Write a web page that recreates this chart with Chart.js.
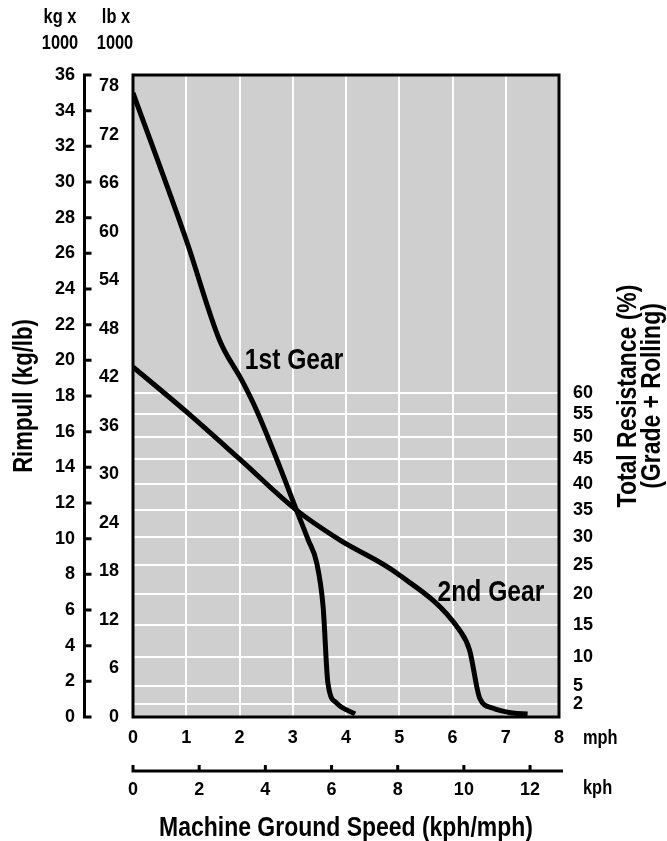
<!DOCTYPE html>
<html>
<head>
<meta charset="utf-8">
<script src="https://cdn.jsdelivr.net/npm/chart.js@4.4.0/dist/chart.umd.min.js"></script>
<style>
  html, body { margin: 0; padding: 0; background: #fff; }
  #wrap { width: 667px; height: 841px; position: relative; }
</style>
</head>
<body>
<div id="wrap"><canvas id="chart"></canvas></div>
<script>
// ---- data (speed in mph, rimpull in kg x 1000) ----
const mphTicks = [0, 1, 2, 3, 4, 5, 6, 7, 8];
const kphTicks = [0, 2, 4, 6, 8, 10, 12];
const kgTicks = [0, 2, 4, 6, 8, 10, 12, 14, 16, 18, 20, 22, 24, 26, 28, 30, 32, 34, 36];
const lbTicks = [0, 6, 12, 18, 24, 30, 36, 42, 48, 54, 60, 66, 72, 78];
const resistLabels = ["2", "5", "10", "15", "20", "25", "30", "35", "40", "45", "50", "55", "60"];
const resistRimpull = [0.73, 1.74, 3.37, 5.16, 6.9, 8.52, 10.1, 11.61, 13.07, 14.47, 15.7, 16.99, 18.17];

const gear1Speed = [0, 1.0, 1.63, 2.04, 2.32, 2.76, 3.07, 3.29, 3.45, 3.57, 3.66, 3.82, 4.17];
const gear1Rimpull = [35.0, 26.75, 21.1, 18.9, 17.2, 14.0, 11.6, 9.93, 8.64, 6.19, 1.91, 0.79, 0.17];
const gear2Speed = [0, 1.0, 2.0, 3.07, 3.88, 4.95, 6.13, 6.32, 6.51, 6.75, 7.13, 7.41];
const gear2Rimpull = [19.63, 17.12, 14.47, 11.6, 9.93, 8.07, 4.88, 3.76, 1.07, 0.5, 0.22, 0.17];

const KG_TO_LB = 2.20462;
const MPH_TO_KPH = 1.609344;

const FAMILY = "'Liberation Sans', Arial, sans-serif";
const tickFont = { family: FAMILY, size: 18, weight: "bold" };

Chart.defaults.color = "#000";
Chart.defaults.font.family = FAMILY;

const toPoints = (xs, ys) => xs.map((x, i) => ({ x: x, y: ys[i] }));
const setTicks = (list) => (scale) => {
  scale.ticks = list.map((v) => ({ value: v }));
};

// condensed bold text (squeezed along the writing direction)
function narrowText(ctx, text, x, y, size, align, rot) {
  ctx.save();
  ctx.translate(x, y);
  if (rot) ctx.rotate(rot);
  ctx.scale(0.82, 1);
  ctx.font = "bold " + size + "px " + FAMILY;
  ctx.textAlign = align;
  ctx.textBaseline = "alphabetic";
  ctx.fillStyle = "#000";
  ctx.fillText(text, 0, 0);
  ctx.restore();
}

// ================================
// DECORATION: background, frame, offset axes, titles
// ================================
const decor = {
  id: "decor",
  beforeDraw(chart) {
    const { ctx, chartArea: a } = chart;
    ctx.save();
    ctx.fillStyle = "#fff";
    ctx.fillRect(0, 0, chart.width, chart.height);
    ctx.fillStyle = "#cfcfcf";
    ctx.fillRect(a.left, a.top, a.right - a.left, a.bottom - a.top);
    ctx.restore();
  },
  afterDraw(chart) {
    const { ctx, chartArea: a, scales } = chart;
    const x = scales.x, y = scales.y, kph = scales.kph;
    ctx.save();
    ctx.strokeStyle = "#000";
    ctx.lineWidth = 3;
    ctx.strokeRect(a.left, a.top, a.right - a.left, a.bottom - a.top);

    // kg axis: line with ticks pointing right
    const ax = y.right - 7.5;
    ctx.beginPath();
    ctx.moveTo(ax, y.getPixelForValue(36) - 1.5);
    ctx.lineTo(ax, y.getPixelForValue(0) + 1.5);
    kgTicks.forEach((v) => {
      const py = y.getPixelForValue(v);
      ctx.moveTo(ax, py);
      ctx.lineTo(y.right - 0.5, py);
    });
    ctx.stroke();

    // kph axis: line with ticks pointing up
    const ky = kph.top + 18;
    ctx.beginPath();
    ctx.moveTo(kph.getPixelForValue(0) - 1.5, ky);
    ctx.lineTo(a.right + 4, ky);
    kphTicks.forEach((v) => {
      const px = kph.getPixelForValue(v);
      ctx.moveTo(px, ky);
      ctx.lineTo(px, ky - 6);
    });
    ctx.stroke();
    ctx.restore();

    narrowText(ctx, "kg x", 60, 23, 20, "center");
    narrowText(ctx, "1000", 60, 49, 20, "center");
    narrowText(ctx, "lb x", 116, 23, 20, "center");
    narrowText(ctx, "1000", 115, 49, 20, "center");
    narrowText(ctx, "mph", 583, 744, 20, "left");
    narrowText(ctx, "kph", 583, 794, 20, "left");

    // curve labels
    narrowText(ctx, "1st Gear", x.getPixelForValue(2.1), y.getPixelForValue(19.5), 30, "left");
    narrowText(ctx, "2nd Gear", x.getPixelForValue(5.72), y.getPixelForValue(6.5), 30, "left");

    // axis titles
    const midY = (a.top + a.bottom) / 2;
    narrowText(ctx, "Machine Ground Speed (kph/mph)", (a.left + a.right) / 2, 836, 28, "center");
    narrowText(ctx, "Rimpull (kg/lb)", 32, midY, 27, "center", -Math.PI / 2);
    narrowText(ctx, "Total Resistance (%)", 636, midY, 28, "center", -Math.PI / 2);
    narrowText(ctx, "(Grade + Rolling)", 660, midY, 28, "center", -Math.PI / 2);
  },
};

new Chart(document.getElementById("chart"), {
  type: "line",
  data: {
    datasets: [
      {
        label: "1st Gear",
        data: toPoints(gear1Speed, gear1Rimpull),
        borderColor: "#000",
        borderWidth: 5,
        pointRadius: 0,
        cubicInterpolationMode: "monotone",
        borderJoinStyle: "round",
      },
      {
        label: "2nd Gear",
        data: toPoints(gear2Speed, gear2Rimpull),
        borderColor: "#000",
        borderWidth: 5,
        pointRadius: 0,
        cubicInterpolationMode: "monotone",
        borderJoinStyle: "round",
      },
    ],
  },
  options: {
    responsive: true,
    maintainAspectRatio: false,
    animation: false,
    devicePixelRatio: 1,
    layout: { padding: { top: 75, left: 0, right: 0, bottom: 0 } },
    plugins: { legend: { display: false }, tooltip: { enabled: false } },
    scales: {
      x: {
        type: "linear",
        position: "bottom",
        weight: 0,
        min: 0,
        max: 8,
        afterBuildTicks: setTicks(mphTicks),
        grid: { color: "#fff", lineWidth: 2, drawTicks: false },
        border: { display: false },
        ticks: { font: tickFont, padding: 10, autoSkip: false, maxRotation: 0, callback: (v) => String(v) },
        afterFit: (s) => { s.height = 36; },
      },
      kph: {
        type: "linear",
        position: "bottom",
        weight: 1,
        min: 0,
        max: 8 * MPH_TO_KPH,
        afterBuildTicks: setTicks(kphTicks),
        grid: { display: false, drawTicks: false },
        border: { display: false },
        ticks: { font: tickFont, padding: 26, autoSkip: false, maxRotation: 0, callback: (v) => String(v) },
        afterFit: (s) => { s.height = 88; },
      },
      y: {
        type: "linear",
        position: "left",
        weight: 1,
        min: 0,
        max: 36,
        afterBuildTicks: setTicks(kgTicks),
        grid: { display: false, drawTicks: false },
        border: { display: false },
        ticks: { font: tickFont, padding: 17, autoSkip: false, callback: (v) => String(v) },
        afterFit: (s) => { s.width = 92; },
      },
      lb: {
        type: "linear",
        position: "left",
        weight: 0,
        min: 0,
        max: 36 * KG_TO_LB,
        afterBuildTicks: setTicks(lbTicks),
        grid: { display: false, drawTicks: false },
        border: { display: false },
        ticks: { font: tickFont, padding: 14, autoSkip: false, callback: (v) => String(v) },
        afterFit: (s) => { s.width = 41; },
      },
      res: {
        type: "linear",
        position: "right",
        min: 0,
        max: 36,
        afterBuildTicks: setTicks(resistRimpull),
        grid: { color: "#fff", lineWidth: 2, drawTicks: false },
        border: { display: false },
        ticks: { font: tickFont, padding: 14, autoSkip: false, callback: (v, i) => resistLabels[i] },
        afterFit: (s) => { s.width = 108; },
      },
    },
  },
  plugins: [decor],
});
</script>
</body>
</html>
